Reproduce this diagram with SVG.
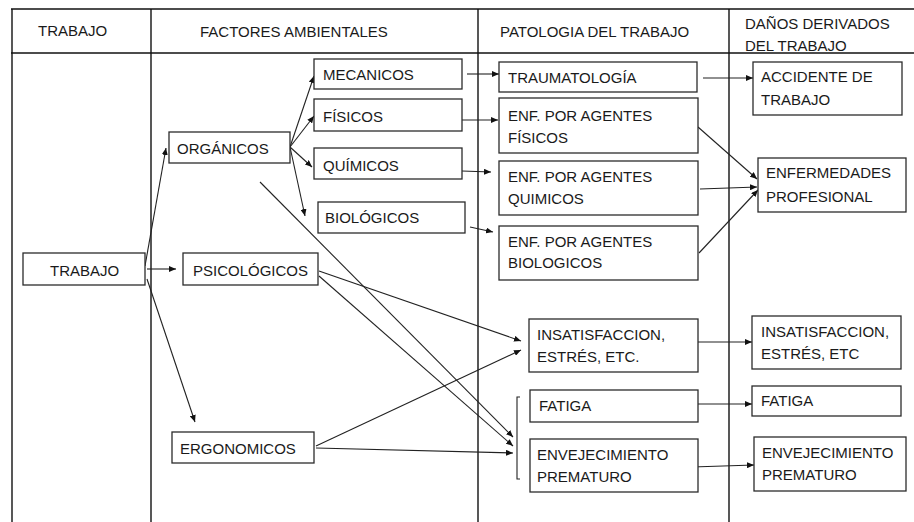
<svg xmlns="http://www.w3.org/2000/svg" width="914" height="522" viewBox="0 0 914 522">
<defs>
<style>
.t{font-family:"Liberation Sans",Arial,sans-serif;font-size:15px;fill:#1a1a1a}
.b{fill:#fff;stroke:#2b2b2b;stroke-width:1.3}
.g{stroke:#111;stroke-width:1.4;fill:none}
.c{stroke:#222;stroke-width:1.1;fill:none}
.a{stroke:#222;stroke-width:1.1;fill:none;marker-end:url(#ah)}
</style>
<marker id="ah" markerUnits="userSpaceOnUse" markerWidth="8" markerHeight="6" refX="7" refY="3" orient="auto">
<path d="M0,0 L7,3 L0,6 z" fill="#111"/>
</marker>
</defs>
<rect width="914" height="522" fill="#fff"/>
<g id="table">
<line class="g" x1="11" y1="9" x2="914" y2="9"/>
<line class="g" x1="11" y1="53" x2="914" y2="53"/>
<line class="g" x1="12" y1="9" x2="12" y2="522"/>
<line class="g" x1="151" y1="9" x2="151" y2="522"/>
<line class="g" x1="478" y1="9" x2="478" y2="522"/>
<line class="g" x1="729" y1="9" x2="729" y2="522"/>
<text class="t" x="38" y="36">TRABAJO</text>
<text class="t" x="200" y="37">FACTORES AMBIENTALES</text>
<text class="t" x="500" y="37">PATOLOGIA DEL TRABAJO</text>
<text class="t" x="745" y="29">DAÑOS DERIVADOS</text>
<text class="t" x="745" y="51">DEL TRABAJO</text>
</g>
<g id="connectors">
<line class="a" x1="145" y1="266" x2="166" y2="148"/>
<line class="a" x1="147" y1="269" x2="176" y2="269"/>
<line class="a" x1="147" y1="279" x2="195" y2="422"/>
<line class="a" x1="290" y1="147" x2="314" y2="76"/>
<line class="a" x1="290" y1="147" x2="314" y2="116"/>
<line class="a" x1="290" y1="147" x2="312" y2="167"/>
<line class="a" x1="290" y1="147" x2="305" y2="216"/>
<line class="a" x1="467" y1="74" x2="499" y2="74"/>
<line class="a" x1="462" y1="120" x2="498" y2="120"/>
<line class="a" x1="462" y1="171" x2="491" y2="172"/>
<line class="a" x1="470" y1="227" x2="493" y2="232"/>
<line class="a" x1="703" y1="78" x2="753" y2="78"/>
<line class="a" x1="698" y1="127" x2="757" y2="179"/>
<line class="a" x1="700" y1="189" x2="757" y2="187"/>
<line class="a" x1="699" y1="253" x2="758" y2="190"/>
<line class="a" x1="260" y1="182" x2="513" y2="437"/>
<line class="a" x1="319" y1="271" x2="521" y2="341"/>
<line class="a" x1="319" y1="276" x2="513" y2="446"/>
<line class="a" x1="316" y1="446" x2="521" y2="350"/>
<line class="a" x1="316" y1="448" x2="513" y2="453"/>
<path class="c" d="M520,397 L517,397 L517,479 L520,479"/>
<line class="a" x1="698" y1="342" x2="752" y2="342"/>
<line class="a" x1="695" y1="404" x2="752" y2="404"/>
<line class="a" x1="692" y1="467" x2="754" y2="465"/>
</g>
<g id="n-trabajo"><rect class="b" x="23" y="253" width="122" height="32"/><text class="t" x="50" y="276">TRABAJO</text></g>
<g id="n-organicos"><rect class="b" x="169" y="132" width="121" height="31"/><text class="t" x="177" y="154">ORGÁNICOS</text></g>
<g id="n-psicologicos"><rect class="b" x="183" y="253" width="135" height="32"/><text class="t" x="193" y="276">PSICOLÓGICOS</text></g>
<g id="n-ergonomicos"><rect class="b" x="172" y="432" width="142" height="31"/><text class="t" x="180" y="454">ERGONOMICOS</text></g>
<g id="n-mecanicos"><rect class="b" x="314" y="59" width="148" height="30"/><text class="t" x="323" y="80">MECANICOS</text></g>
<g id="n-fisicos"><rect class="b" x="314" y="99" width="148" height="32"/><text class="t" x="323" y="122">FÍSICOS</text></g>
<g id="n-quimicos"><rect class="b" x="314" y="148" width="148" height="31"/><text class="t" x="323" y="171">QUÍMICOS</text></g>
<g id="n-biologicos"><rect class="b" x="318" y="202" width="147" height="31"/><text class="t" x="325" y="223">BIOLÓGICOS</text></g>
<g id="n-traumatologia"><rect class="b" x="499" y="62" width="198" height="30"/><text class="t" x="508" y="83">TRAUMATOLOGÍA</text></g>
<g id="n-enf-fisicos"><rect class="b" x="499" y="98" width="199" height="55"/><text class="t" x="508" y="121">ENF. POR AGENTES</text><text class="t" x="508" y="143">FÍSICOS</text></g>
<g id="n-enf-quimicos"><rect class="b" x="499" y="161" width="199" height="54"/><text class="t" x="508" y="182">ENF. POR AGENTES</text><text class="t" x="508" y="204">QUIMICOS</text></g>
<g id="n-enf-biologicos"><rect class="b" x="499" y="226" width="199" height="54"/><text class="t" x="508" y="247">ENF. POR AGENTES</text><text class="t" x="508" y="268">BIOLOGICOS</text></g>
<g id="n-accidente"><rect class="b" x="753" y="62" width="149" height="53"/><text class="t" x="761" y="82">ACCIDENTE DE</text><text class="t" x="761" y="105">TRABAJO</text></g>
<g id="n-enfermedades"><rect class="b" x="758" y="158" width="148" height="54"/><text class="t" x="766" y="178">ENFERMEDADES</text><text class="t" x="766" y="202">PROFESIONAL</text></g>
<g id="n-insat-mid"><rect class="b" x="529" y="319" width="169" height="53"/><text class="t" x="537" y="340">INSATISFACCION,</text><text class="t" x="537" y="362">ESTRÉS, ETC.</text></g>
<g id="n-fatiga-mid"><rect class="b" x="530" y="390" width="168" height="32"/><text class="t" x="539" y="411">FATIGA</text></g>
<g id="n-envej-mid"><rect class="b" x="530" y="439" width="168" height="53"/><text class="t" x="537" y="460">ENVEJECIMIENTO</text><text class="t" x="537" y="482">PREMATURO</text></g>
<g id="n-insat-right"><rect class="b" x="752" y="316" width="149" height="53"/><text class="t" x="761" y="337">INSATISFACCION,</text><text class="t" x="761" y="359">ESTRÉS, ETC</text></g>
<g id="n-fatiga-right"><rect class="b" x="752" y="386" width="149" height="30"/><text class="t" x="761" y="406">FATIGA</text></g>
<g id="n-envej-right"><rect class="b" x="754" y="437" width="152" height="54"/><text class="t" x="762" y="458">ENVEJECIMIENTO</text><text class="t" x="762" y="480">PREMATURO</text></g>
</svg>
